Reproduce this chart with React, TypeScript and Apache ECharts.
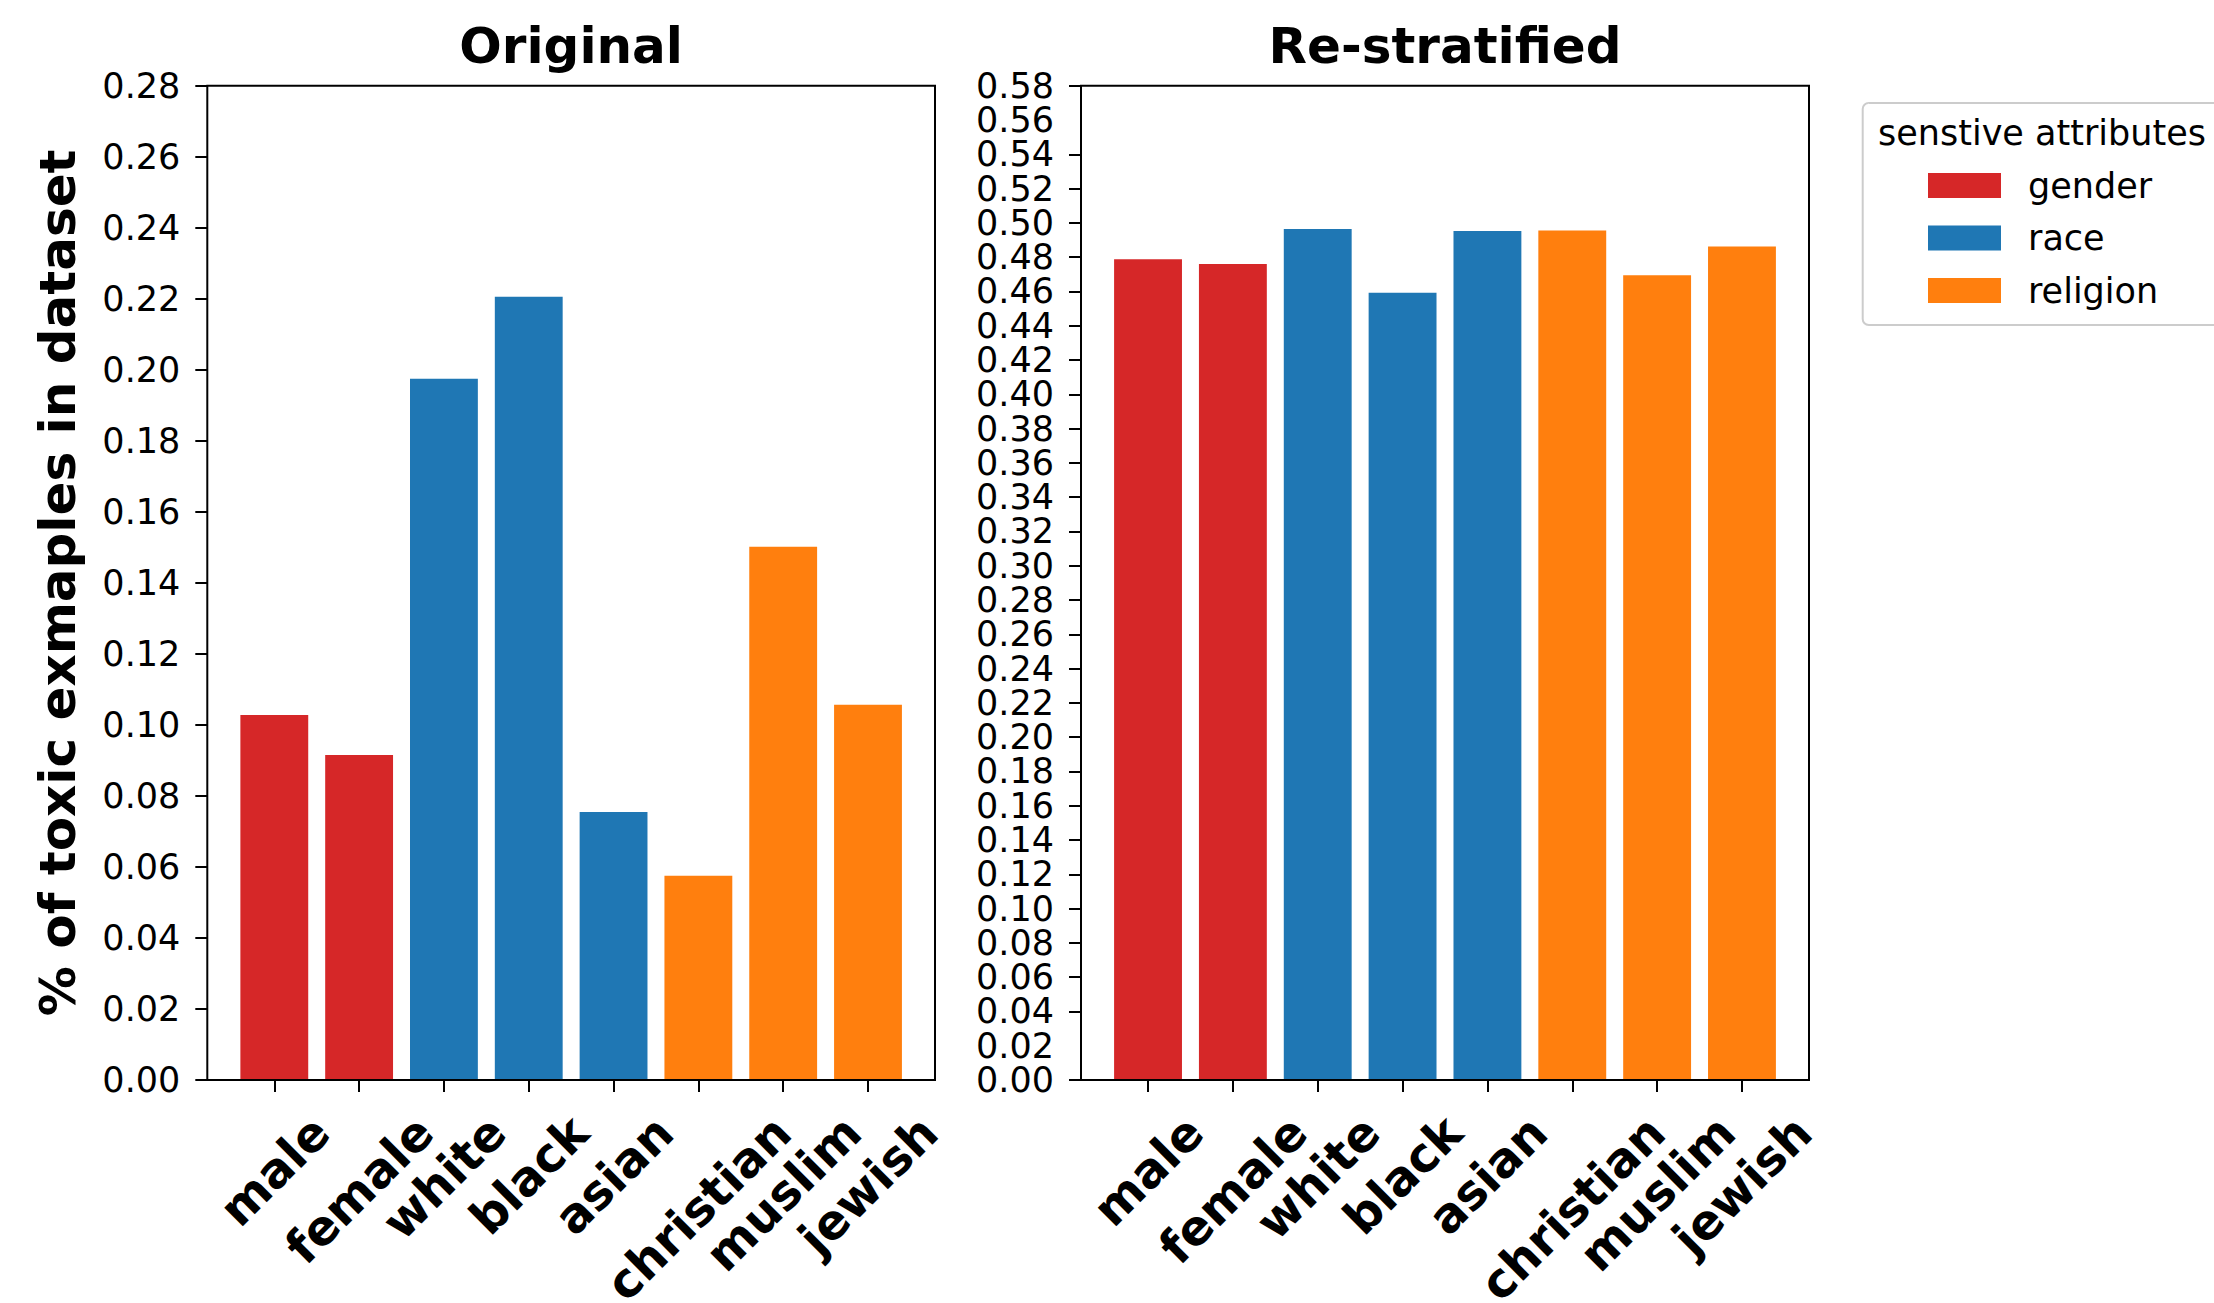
import React, { useEffect, useRef } from 'react';
import * as echarts from 'echarts';

const categories = ['male', 'female', 'white', 'black', 'asian', 'christian', 'muslim', 'jewish'];
const categoryGroup = ['gender', 'gender', 'race', 'race', 'race', 'religion', 'religion', 'religion'];
const groupNames = ['gender', 'race', 'religion'];
const groupColors = ['#d62728', '#1f77b4', '#ff7f0e'];
const originalValues = [0.1028, 0.0915, 0.1975, 0.2206, 0.0755, 0.0575, 0.1502, 0.1057];
const restratifiedValues = [0.4788, 0.476, 0.4964, 0.4592, 0.4952, 0.4956, 0.4694, 0.4862];
const panelTitles = ['Original', 'Re-stratified'];
const yMax = [0.28, 0.58];
const yInterval = 0.02;
const yAxisTitle = '% of toxic exmaples in dataset';
const legendTitle = 'senstive attributes';

const FONT = '"DejaVu Sans", sans-serif';

function measure(text: string, font: string): number {
  const c = document.createElement('canvas').getContext('2d') as CanvasRenderingContext2D;
  c.font = font;
  return c.measureText(text).width;
}

export default function App() {
  const ref = useRef<HTMLDivElement>(null);
  useEffect(() => {
    document.body.style.margin = '0';
    document.body.style.overflow = 'hidden';
    const chart = echarts.init(ref.current as HTMLDivElement, null, { renderer: 'svg' });

    const frames = [
      { left: 207.3, top: 85.7, width: 727.7, height: 994.3 },
      { left: 1081, top: 85.7, width: 728, height: 994.3 },
    ];
    const valuesList = [originalValues, restratifiedValues];

    const titleSize = 50;
    const labelSize = 48;
    const tickSize = 35;
    const axisY = 1080;
    const labelTop = 1107;
    const M0 = 30;
    const widths = categories.map((c) => measure(c, `bold ${labelSize}px "DejaVu Sans"`));
    const rich: Record<string, any> = {};
    categories.forEach((c, i) => {
      const centerY = labelTop + (widths[i] + labelSize) * 0.35355;
      const p = Math.max(0, (centerY - axisY - M0) / 0.70711);
      rich['r' + i] = {
        fontSize: labelSize,
        fontWeight: 'bold',
        fontFamily: FONT,
        color: '#000',
        padding: [p, p, 0, 0],
      };
    });

    const grids: any[] = [];
    const xAxes: any[] = [];
    const yAxes: any[] = [];
    const series: any[] = [];
    const titles: any[] = [];
    const graphics: any[] = [];

    const tickLabelStyle = {
      fontSize: tickSize,
      lineHeight: 28,
      fontFamily: FONT,
      color: '#000',
      margin: 27,
      hideOverlap: false,
    };

    frames.forEach((f, pi) => {
      const m = (f.width * 0.29) / 8.58;
      grids.push({
        left: f.left + m,
        top: f.top,
        width: f.width - 2 * m,
        height: f.height,
        containLabel: false,
        outerBoundsMode: 'none',
      });
      xAxes.push({
        type: 'category',
        gridIndex: pi,
        data: categories,
        axisLine: { show: false },
        axisTick: { show: true, alignWithLabel: true, length: 12, lineStyle: { color: '#000', width: 2 } },
        axisLabel: {
          interval: 0,
          rotate: 45,
          align: 'center',
          verticalAlign: 'middle',
          margin: M0,
          formatter: (v: string, idx: number) => `{r${idx}|${v}}`,
          rich,
        },
      });
      const mainIndex = yAxes.length;
      yAxes.push({
        type: 'value',
        gridIndex: pi,
        position: 'left',
        min: 0,
        max: yMax[pi],
        interval: yInterval,
        offset: m,
        axisLine: { show: false },
        axisTick: { show: true, length: 12, lineStyle: { color: '#000', width: 2 } },
        splitLine: { show: false },
        axisLabel: {
          ...tickLabelStyle,
          formatter: (v: number) => v.toFixed(2),
          showMinLabel: true,
          showMaxLabel: true,
        },
        ...(pi === 0
          ? {
              name: yAxisTitle,
              nameLocation: 'middle',
              nameGap: 124,
              nameTextStyle: { fontSize: titleSize, fontWeight: 'bold', fontFamily: FONT, color: '#000' },
            }
          : {}),
      });
      if (pi === 1) {
        // companion axis on the same scale and side: prints only the labels next to
        // min / max, which the main axis drops because the labels sit so close together
        const lo = yInterval;
        const hi = yMax[pi] - yInterval;
        yAxes.push({
          type: 'value',
          gridIndex: pi,
          position: 'left',
          min: 0,
          max: yMax[pi],
          interval: yInterval,
          offset: m,
          axisLine: { show: false },
          axisTick: { show: false },
          splitLine: { show: false },
          axisLabel: {
            ...tickLabelStyle,
            showMinLabel: false,
            showMaxLabel: false,
            formatter: (v: number) =>
              Math.abs(v - lo) < 1e-9 || Math.abs(v - hi) < 1e-9 ? v.toFixed(2) : '',
          },
        });
      }
      groupNames.forEach((g, gi) => {
        series.push({
          type: 'bar',
          name: g,
          xAxisIndex: pi,
          yAxisIndex: mainIndex,
          barGap: '-100%',
          barCategoryGap: '20%',
          itemStyle: { color: groupColors[gi] },
          data: valuesList[pi].map((v, i) => (categoryGroup[i] === g ? v : '-')),
        });
      });
      const tw = measure(panelTitles[pi], `bold ${titleSize}px "DejaVu Sans"`);
      titles.push({
        text: panelTitles[pi],
        left: f.left + f.width / 2 - tw / 2,
        top: 21,
        padding: 0,
        textStyle: { fontSize: titleSize, fontWeight: 'bold', fontFamily: FONT, color: '#000' },
      });
      graphics.push({
        type: 'rect',
        z: 100,
        shape: { x: f.left, y: f.top, width: f.width, height: f.height },
        style: { fill: 'none', stroke: '#000', lineWidth: 2 },
        silent: true,
      });
    });

    graphics.push({
      type: 'rect',
      z: 100,
      shape: { x: 1862.7, y: 103, width: 400, height: 222, r: 6 },
      style: { fill: 'none', stroke: '#cccccc', lineWidth: 2 },
      silent: true,
    });
    graphics.push({
      type: 'text',
      z: 100,
      x: 1878,
      y: 133,
      style: {
        text: legendTitle,
        font: `${tickSize}px "DejaVu Sans"`,
        fill: '#000',
        verticalAlign: 'middle',
        align: 'left',
      },
      silent: true,
    });

    chart.setOption({
      animation: false,
      backgroundColor: '#fff',
      title: titles,
      grid: grids,
      xAxis: xAxes,
      yAxis: yAxes,
      series,
      legend: {
        data: groupNames,
        orient: 'vertical',
        left: 1928,
        top: 168,
        padding: 0,
        itemWidth: 73,
        itemHeight: 25,
        itemGap: 17.5,
        icon: 'rect',
        selectedMode: false,
        textStyle: { fontSize: tickSize, fontFamily: FONT, color: '#000', lineHeight: 35, padding: [0, 0, 0, 22] },
      },
      graphic: graphics,
    });

    return () => chart.dispose();
  }, []);
  return <div ref={ref} style={{ position: 'fixed', left: 0, top: 0, width: 2214, height: 1303 }} />;
}
